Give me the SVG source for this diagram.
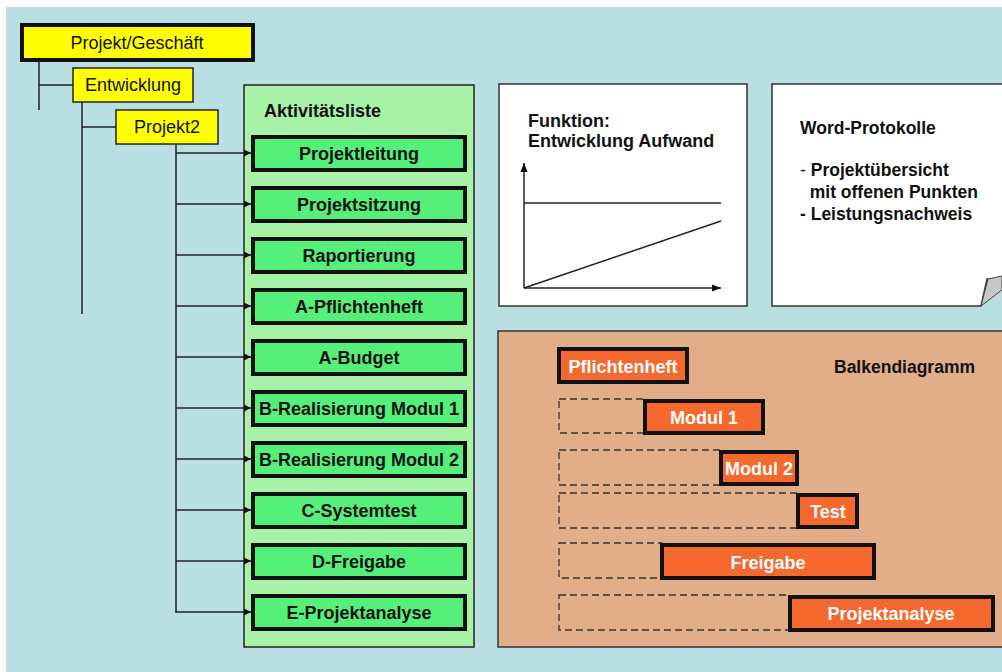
<svg xmlns="http://www.w3.org/2000/svg" width="1002" height="672" viewBox="0 0 1002 672">
<defs>
<style>
.yl{fill:#ffff00;stroke:#222;stroke-width:1.5}
.t{font-family:"Liberation Sans",Arial,sans-serif;font-size:18px;fill:#111}
.b{font-weight:bold}
.s{font-size:17.5px}
.act{fill:#55f07a;stroke:#111;stroke-width:4}
.bar{fill:#f5692f;stroke:#111;stroke-width:4}
.dash{fill:none;stroke:#333;stroke-width:1.3;stroke-dasharray:7,4}
.ln{stroke:#222;stroke-width:1.5;fill:none}
.wt{fill:#fff}
</style>
<marker id="ah" viewBox="0 0 10 10" refX="10" refY="5" markerWidth="7" markerHeight="7" orient="auto" markerUnits="userSpaceOnUse"><path d="M0,0L10,5L0,10z" fill="#111"/></marker>
<marker id="ah2" viewBox="0 0 10 10" refX="10" refY="5" markerWidth="9" markerHeight="9" orient="auto" markerUnits="userSpaceOnUse"><path d="M0,1L10,5L0,9z" fill="#111"/></marker>
</defs>
<rect x="0" y="0" width="1002" height="672" fill="#ffffff"/>
<rect x="6" y="7" width="996" height="665" fill="#badfe2"/>

<g id="projekt-geschaeft">
<rect x="22" y="25" width="231" height="35" fill="#ffff00" stroke="#111" stroke-width="4"/>
<text class="t" x="137" y="49" text-anchor="middle">Projekt/Geschäft</text>
</g>
<g id="entwicklung">
<rect class="yl" x="73" y="68" width="120" height="34"/>
<text class="t" x="133" y="91" text-anchor="middle">Entwicklung</text>
</g>
<g id="projekt2">
<rect class="yl" x="116" y="110" width="102" height="34"/>
<text class="t" x="167" y="133" text-anchor="middle">Projekt2</text>
</g>

<g id="aktivitaetsliste">
<rect x="244" y="85" width="230" height="562" fill="#a8f2a8" stroke="#222" stroke-width="1.5"/>
<text class="t b" x="264" y="117">Aktivitätsliste</text>
</g>
<g id="a1"><rect class="act" x="253" y="137" width="212" height="33"/><text class="t b" x="359" y="160" text-anchor="middle">Projektleitung</text></g>
<g id="a2"><rect class="act" x="253" y="188" width="212" height="33"/><text class="t b" x="359" y="211" text-anchor="middle">Projektsitzung</text></g>
<g id="a3"><rect class="act" x="253" y="239" width="212" height="33"/><text class="t b" x="359" y="262" text-anchor="middle">Raportierung</text></g>
<g id="a4"><rect class="act" x="253" y="290" width="212" height="33"/><text class="t b" x="359" y="313" text-anchor="middle">A-Pflichtenheft</text></g>
<g id="a5"><rect class="act" x="253" y="341" width="212" height="33"/><text class="t b" x="359" y="364" text-anchor="middle">A-Budget</text></g>
<g id="a6"><rect class="act" x="253" y="392" width="212" height="33"/><text class="t b" x="359" y="415" text-anchor="middle">B-Realisierung Modul 1</text></g>
<g id="a7"><rect class="act" x="253" y="443" width="212" height="33"/><text class="t b" x="359" y="466" text-anchor="middle">B-Realisierung Modul 2</text></g>
<g id="a8"><rect class="act" x="253" y="494" width="212" height="33"/><text class="t b" x="359" y="517" text-anchor="middle">C-Systemtest</text></g>
<g id="a9"><rect class="act" x="253" y="545" width="212" height="33"/><text class="t b" x="359" y="568" text-anchor="middle">D-Freigabe</text></g>
<g id="a10"><rect class="act" x="253" y="596" width="212" height="33"/><text class="t b" x="359" y="619" text-anchor="middle">E-Projektanalyse</text></g>

<g id="connectors">
<path class="ln" d="M39,61V110M39,85H73"/>
<path class="ln" d="M82,102V314M82,127H116"/>
<path class="ln" d="M176,144V613"/>
<path class="ln" d="M176,153H251" marker-end="url(#ah)"/>
<path class="ln" d="M176,204H251" marker-end="url(#ah)"/>
<path class="ln" d="M176,255H251" marker-end="url(#ah)"/>
<path class="ln" d="M176,306H251" marker-end="url(#ah)"/>
<path class="ln" d="M176,357H251" marker-end="url(#ah)"/>
<path class="ln" d="M176,408H251" marker-end="url(#ah)"/>
<path class="ln" d="M176,459H251" marker-end="url(#ah)"/>
<path class="ln" d="M176,510H251" marker-end="url(#ah)"/>
<path class="ln" d="M176,561H251" marker-end="url(#ah)"/>
<path class="ln" d="M176,612H251" marker-end="url(#ah)"/>
</g>

<g id="funktion">
<rect x="499" y="84" width="248" height="222" fill="#fff" stroke="#333" stroke-width="1.5"/>
<text class="t b" x="528" y="127">Funktion:</text>
<text class="t b" x="528" y="147">Entwicklung Aufwand</text>
<path class="ln" d="M524,288V163" marker-end="url(#ah2)"/>
<path class="ln" d="M524,288H721" marker-end="url(#ah2)"/>
<path class="ln" d="M524,203H721"/>
<path class="ln" d="M524,288L721,221"/>
</g>

<g id="word-protokolle">
<path d="M772,84H1010V280L1002,281L987,279L981,306H772Z" fill="#fff" stroke="#333" stroke-width="1.5"/>
<path d="M981,306L988,279L1002,276V290Z" fill="#c8c8c8" stroke="#444" stroke-width="1"/>
<text class="t b s" x="800" y="134">Word-Protokolle</text>
<text class="t s" x="800" y="176">- <tspan class="b">Projektübersicht</tspan></text>
<text class="t b s" x="800" y="198" xml:space="preserve">  mit offenen Punkten</text>
<text class="t b s" x="800" y="220">- Leistungsnachweis</text>
</g>

<g id="balkendiagramm">
<rect x="498" y="331" width="520" height="316" fill="#e1ae89" stroke="#333" stroke-width="1.5"/>
<text class="t b s" x="834" y="373">Balkendiagramm</text>
</g>
<g id="b1"><rect class="bar" x="559" y="349" width="128" height="33"/><text class="t b wt" x="623" y="373" text-anchor="middle">Pflichtenheft</text></g>
<g id="b2"><rect class="dash" x="559" y="399" width="86" height="34"/><rect class="bar" x="645" y="401" width="118" height="32"/><text class="t b wt" x="704" y="424" text-anchor="middle">Modul 1</text></g>
<g id="b3"><rect class="dash" x="559" y="450" width="162" height="35"/><rect class="bar" x="721" y="452" width="76" height="32"/><text class="t b wt" x="759" y="475" text-anchor="middle">Modul 2</text></g>
<g id="b4"><rect class="dash" x="559" y="493" width="239" height="35"/><rect class="bar" x="798" y="495" width="59" height="32"/><text class="t b wt" x="828" y="518" text-anchor="middle">Test</text></g>
<g id="b5"><rect class="dash" x="559" y="543" width="103" height="35"/><rect class="bar" x="662" y="545" width="212" height="33"/><text class="t b wt" x="768" y="569" text-anchor="middle">Freigabe</text></g>
<g id="b6"><rect class="dash" x="559" y="595" width="231" height="35"/><rect class="bar" x="790" y="597" width="203" height="33"/><text class="t b wt" x="891" y="620" text-anchor="middle">Projektanalyse</text></g>
</svg>
